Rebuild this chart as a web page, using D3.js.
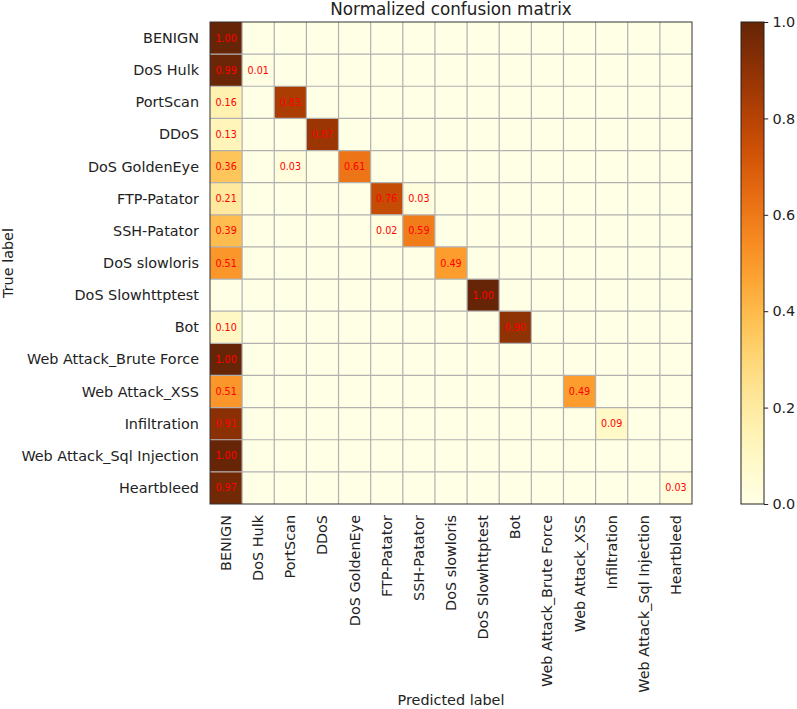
<!DOCTYPE html>
<html>
<head>
<meta charset="utf-8">
<script src="https://cdn.jsdelivr.net/npm/d3@7"></script>
<style>
  body { margin: 0; background: #fff; }
  svg { font-family: 'DejaVu Sans', sans-serif; }
</style>
</head>
<body>
<div id="chart"></div>
<script>
'use strict'

// class names, used for both axes
const labels = [
    'BENIGN', 'DoS Hulk', 'PortScan', 'DDoS', 'DoS GoldenEye', 'FTP-Patator',
    'SSH-Patator', 'DoS slowloris', 'DoS Slowhttptest', 'Bot',
    'Web Attack_Brute Force', 'Web Attack_XSS', 'Infiltration',
    'Web Attack_Sql Injection', 'Heartbleed'
]

// non-zero cells of the normalized matrix: [true row, predicted col, value]
const cells = [
    [0, 0, 1.0],
    [1, 0, 0.99], [1, 1, 0.01],
    [2, 0, 0.16], [2, 2, 0.83],
    [3, 0, 0.13], [3, 3, 0.87],
    [4, 0, 0.36], [4, 2, 0.03], [4, 4, 0.61],
    [5, 0, 0.21], [5, 5, 0.76], [5, 6, 0.03],
    [6, 0, 0.39], [6, 5, 0.02], [6, 6, 0.59],
    [7, 0, 0.51], [7, 7, 0.49],
    [8, 8, 1.0],
    [9, 0, 0.10], [9, 9, 0.90],
    [10, 0, 1.0],
    [11, 0, 0.51], [11, 11, 0.49],
    [12, 0, 0.91], [12, 12, 0.09],
    [13, 0, 1.0],
    [14, 0, 0.97], [14, 14, 0.03]
]

const colorTicks = [0.0, 0.2, 0.4, 0.6, 0.8, 1.0]

const width = 797, height = 709
const plot = { left: 210, top: 22, size: 482 }
const bar = { left: 741, width: 23 }
const labelSize = 14.4

// full matrix built from the sparse cell list
const matrix = []
labels.forEach((_, r) => {
    labels.forEach((_, c) => matrix.push({ r: r, c: c, v: 0 }))
})
cells.forEach(([r, c, v]) => { matrix[r * labels.length + c].v = v })

const color = d3.scaleSequential(d3.interpolateYlOrBr).domain([0, 1])

const svg = d3.select('#chart').append('svg')
    .attr('width', width)
    .attr('height', height)

const x = d3.scaleBand().domain(d3.range(labels.length))
    .range([plot.left, plot.left + plot.size])
const y = d3.scaleBand().domain(d3.range(labels.length))
    .range([plot.top, plot.top + plot.size])

// cells
svg.append('g').selectAll('rect')
    .data(matrix)
    .join('rect')
    .attr('x', d => x(d.c))
    .attr('y', d => y(d.r))
    .attr('width', x.bandwidth())
    .attr('height', y.bandwidth())
    .attr('fill', d => color(d.v))

// grid lines between cells
const grid = svg.append('g').attr('stroke', '#b0b0b0').attr('stroke-width', 1.2)
d3.range(1, labels.length).forEach(i => {
    grid.append('line')
        .attr('x1', x(i)).attr('x2', x(i))
        .attr('y1', plot.top).attr('y2', plot.top + plot.size)
    grid.append('line')
        .attr('x1', plot.left).attr('x2', plot.left + plot.size)
        .attr('y1', y(i)).attr('y2', y(i))
})

// value labels (only non-zero)
svg.append('g').selectAll('text')
    .data(matrix.filter(d => d.v > 0))
    .join('text')
    .attr('x', d => x(d.c) + x.bandwidth() / 2)
    .attr('y', d => y(d.r) + y.bandwidth() / 2)
    .attr('text-anchor', 'middle')
    .attr('dominant-baseline', 'central')
    .attr('font-size', 9.6)
    .attr('fill', '#ff0000')
    .text(d => d.v.toFixed(2))

// frame
svg.append('rect')
    .attr('x', plot.left).attr('y', plot.top)
    .attr('width', plot.size).attr('height', plot.size)
    .attr('fill', 'none').attr('stroke', '#333').attr('stroke-width', 1)

// y tick labels
svg.append('g').selectAll('text')
    .data(labels)
    .join('text')
    .attr('x', plot.left - 11)
    .attr('y', (d, i) => y(i) + y.bandwidth() / 2)
    .attr('text-anchor', 'end')
    .attr('dominant-baseline', 'central')
    .attr('font-size', labelSize)
    .attr('fill', '#222')
    .text(d => d)

// x tick labels, rotated
svg.append('g').selectAll('text')
    .data(labels)
    .join('text')
    .attr('transform', (d, i) =>
        `translate(${x(i) + x.bandwidth() / 2}, ${plot.top + plot.size + 11}) rotate(-90)`)
    .attr('text-anchor', 'end')
    .attr('dominant-baseline', 'central')
    .attr('font-size', labelSize)
    .attr('fill', '#222')
    .text(d => d)

// titles
svg.append('text')
    .attr('x', plot.left + plot.size / 2).attr('y', 15)
    .attr('text-anchor', 'middle')
    .attr('font-size', 16.8)
    .attr('fill', '#222')
    .text('Normalized confusion matrix')

svg.append('text')
    .attr('x', plot.left + plot.size / 2).attr('y', 705)
    .attr('text-anchor', 'middle')
    .attr('font-size', labelSize)
    .attr('fill', '#222')
    .text('Predicted label')

svg.append('text')
    .attr('transform', `translate(13, ${plot.top + plot.size / 2}) rotate(-90)`)
    .attr('text-anchor', 'middle')
    .attr('font-size', labelSize)
    .attr('fill', '#222')
    .text('True label')

// colorbar
const defs = svg.append('defs')
const grad = defs.append('linearGradient')
    .attr('id', 'cbar')
    .attr('x1', 0).attr('y1', 1).attr('x2', 0).attr('y2', 0)
d3.range(0, 1.0001, 0.05).forEach(t => {
    grad.append('stop').attr('offset', t).attr('stop-color', color(t))
})

const cy = d3.scaleLinear().domain([0, 1]).range([plot.top + plot.size, plot.top])

svg.append('rect')
    .attr('x', bar.left).attr('y', plot.top)
    .attr('width', bar.width).attr('height', plot.size)
    .attr('fill', 'url(#cbar)')
    .attr('stroke', '#222').attr('stroke-width', 1)

const cAxis = svg.append('g')
    .attr('transform', `translate(${bar.left + bar.width}, 0)`)
    .call(d3.axisRight(cy).tickValues(colorTicks).tickFormat(d3.format('.1f'))
        .tickSize(4.2).tickPadding(4.2))
cAxis.select('.domain').remove()
cAxis.selectAll('text').attr('font-size', labelSize).attr('fill', '#222')
    .attr('font-family', 'DejaVu Sans')
cAxis.selectAll('line').attr('stroke', '#222')
</script>
</body>
</html>
